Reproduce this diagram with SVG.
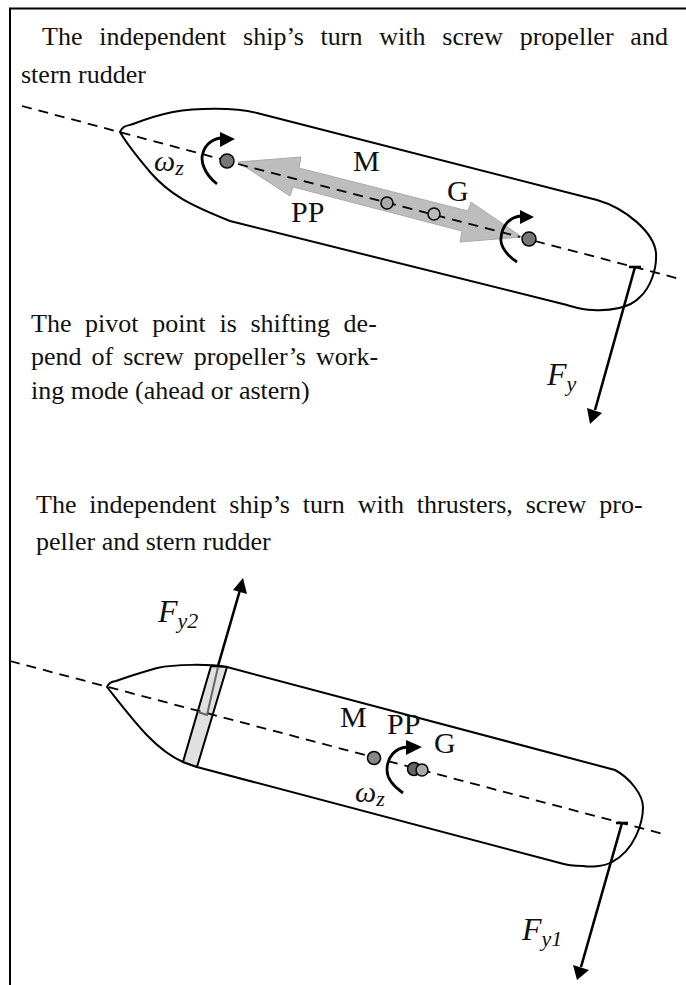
<svg xmlns="http://www.w3.org/2000/svg" width="686" height="985" viewBox="0 0 686 985">
<style>
.t{font-family:"Liberation Serif",serif;font-size:26px;fill:#111}
.l{font-family:"Liberation Serif",serif;font-size:30px;fill:#111}
.i{font-family:"Liberation Serif",serif;font-style:italic;font-size:32px;fill:#111}
.s{font-size:22px}
.hull{fill:none;stroke:#000;stroke-width:2}
.axis{fill:none;stroke:#000;stroke-width:1.8;stroke-dasharray:10 7}
.f{fill:none;stroke:#000;stroke-width:2.6}
.c{fill:none;stroke:#000;stroke-width:2.8}
.frame{fill:none;stroke:#000;stroke-width:2}
.dot{stroke:#000;stroke-width:1.5}
</style>
<g id="frame"><path class="frame" d="M10 985V8.500H686"/></g>
<g id="caption1"><text class="t" x="42" y="45" word-spacing="10.3">The independent ship’s turn with screw propeller and</text><text class="t" x="21" y="83">stern rudder</text></g>
<g id="caption2"><text class="t" x="31" y="332" word-spacing="7.2">The pivot point is shifting de-</text><text class="t" x="31" y="365" word-spacing="3.5">pend of screw propeller’s work-</text><text class="t" x="31" y="399">ing mode (ahead or astern)</text></g>
<g id="caption3"><text class="t" x="36" y="513" word-spacing="6.4">The independent ship’s turn with thrusters, screw pro-</text><text class="t" x="36" y="550">peller and stern rudder</text></g>
<g id="ship1"><path class="hull" d="M120 132C123 125 128 126 133 124C146 119 158 115 173 112C195 108 235 107 257 113L597 200C625 208 654 232 656 253C657 270 650 288 640 297C630 308 610 311 593 310C582 310 574 307 567 305L230 221C190 205 170 195 150 172C140 160 128 146 120 132Z"/></g>
<g id="ppArrow"><path d="M238 162L301 157L299 168L468 211L471 202L522 237L460 242L462 231L293 187L290 196Z" fill="#bdbdbd" stroke="#aaa"/></g>
<g id="ship2"><path class="hull" d="M107 687C109 682 112 682 116 681C130 676 143 672 157 668C175 664 210 664 227 667L615 770C630 778 643 795 643 807C643 822 635 850 612 862C603 867 590 867 583 866C572 866 566 865 560 863L197 767L183 762C155 750 133 720 107 687Z"/><path d="M211 666L227 667L197 767L183 762Z" fill="#e0e0e0" stroke="#000" stroke-width="2"/></g>
<g id="connectors">
<path class="axis" d="M22 106L228 161M238 164L520 237"/>
<path class="axis" d="M535 241L680 279"/>
<path class="axis" d="M10 661L667 835"/>
<path class="f" d="M635 267L595 410"/><path d="M587 408L602 413L590 424Z"/><path class="f" d="M629 267H641"/>
<path class="f" d="M622 823L581 967"/><path d="M573 965L589 970L577 980Z"/><path class="f" d="M616 823H628"/>
<path class="f" d="M218 666L240 590"/><path d="M233 590L247 594L243 578Z"/>
<path d="M218 667L207 715L198 712" fill="none" stroke="#666" stroke-width="2"/>
<path class="c" d="M217 184C204 174 200 160 203 153C205 145 212 139 221 138"/><path d="M220 132L235 139L220 147Z"/>
<path class="c" d="M517 262C506 255 500 245 501 238C502 225 510 217 521 216"/><path d="M520 210L534 217L520 224Z"/>
<path class="c" d="M403 793C393 786 387 778 387 770C387 757 395 748 407 747"/><path d="M406 740L422 747L406 755Z"/>
</g>
<g id="points">
<circle class="dot" cx="227" cy="161" r="7" fill="#777"/><circle class="dot" cx="529" cy="239" r="7" fill="#777"/>
<circle class="dot" cx="387" cy="203" r="6" fill="#aaa"/><circle class="dot" cx="434" cy="214" r="6" fill="#bbb"/>
<circle class="dot" cx="374" cy="758" r="6.5" fill="#888"/><circle class="dot" cx="414" cy="769" r="6.5" fill="#666"/><circle class="dot" cx="422" cy="770" r="6" fill="#aaa"/>
</g>
<g id="labels">
<text class="l" x="353" y="171">M</text><text class="l" x="447" y="201">G</text><text class="l" x="291" y="222">PP</text>
<text class="i" x="154" y="171" style="font-size:30px">ω<tspan class="s" dy="4">z</tspan></text>
<text class="i" x="547" y="385">F<tspan class="s" dy="6">y</tspan></text>
<text class="i" x="158" y="622">F<tspan class="s" dy="6">y2</tspan></text>
<text class="i" x="522" y="940">F<tspan class="s" dy="6">y1</tspan></text>
<text class="l" x="340" y="727">M</text><text class="l" x="387" y="734">PP</text><text class="l" x="434" y="753">G</text>
<text class="i" x="355" y="802" style="font-size:30px">ω<tspan class="s" dy="4">z</tspan></text>
</g>
</svg>
